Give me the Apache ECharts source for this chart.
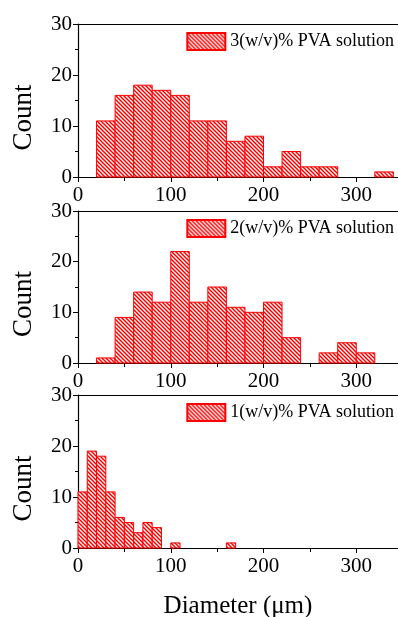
<!DOCTYPE html>
<html>
<head>
<meta charset="utf-8">
<script src="https://cdn.jsdelivr.net/npm/echarts@6/dist/echarts.min.js"></script>
<style>html,body{margin:0;padding:0;background:#fff}#c{width:398px;height:617px}</style>
</head>
<body>
<div id="c"></div>
<script>
// Panel 1: 3(w/v)% PVA solution, bins of width 20
const bins3Start = [20, 40, 60, 80, 100, 120, 140, 160, 180, 200, 220, 240, 260, 320];
const counts3 =    [11, 16, 18, 17, 16, 11, 11, 7, 8, 2, 5, 2, 2, 1];
const width3 = 20;
// Panel 2: 2(w/v)% PVA solution, bins of width 20
const bins2Start = [20, 40, 60, 80, 100, 120, 140, 160, 180, 200, 220, 260, 280, 300];
const counts2 =    [1, 9, 14, 12, 22, 12, 15, 11, 10, 12, 5, 2, 4, 2];
const width2 = 20;
// Panel 3: 1(w/v)% PVA solution, bins of width 10
const bins1Start = [0, 10, 20, 30, 40, 50, 60, 70, 80, 100, 160];
const counts1 =    [11, 19, 18, 11, 6, 5, 3, 5, 4, 1, 1];
const width1 = 10;

const seriesNames = ['3(w/v)% PVA solution', '2(w/v)% PVA solution', '1(w/v)% PVA solution'];
const xTicks = [0, 100, 200, 300];
const yTicks = [0, 10, 20, 30];
const xTitle = 'Diameter (\u03bcm)';
const yTitle = 'Count';

function makePattern() {
  const s = 4;
  const cv = document.createElement('canvas');
  cv.width = s; cv.height = s;
  const ctx = cv.getContext('2d');
  ctx.fillStyle = '#ffffff';
  ctx.fillRect(0, 0, s, s);
  ctx.strokeStyle = '#ff0000';
  ctx.lineWidth = 1.5;
  ctx.beginPath();
  ctx.moveTo(-1, -1); ctx.lineTo(s + 1, s + 1);
  ctx.moveTo(-1, s - 1); ctx.lineTo(1, s + 1);
  ctx.moveTo(s - 1, -1); ctx.lineTo(s + 1, 1);
  ctx.stroke();
  return cv;
}
const pattern = { image: makePattern(), repeat: 'repeat' };

const chart = echarts.init(document.getElementById('c'), null, { renderer: 'canvas' });
const font = 'Liberation Serif';
const grids = [
  { left: 78, right: 0, top: 24, height: 153, outerBoundsMode: 'none', containLabel: false },
  { left: 78, right: 0, top: 211, height: 152, outerBoundsMode: 'none', containLabel: false },
  { left: 78, right: 0, top: 395, height: 153, outerBoundsMode: 'none', containLabel: false }
];
const xMax = 345;

function toData(starts, counts, w) {
  return starts.map((s, i) => [s, s + w, counts[i]]);
}
const datasets = [
  toData(bins3Start, counts3, width3),
  toData(bins2Start, counts2, width2),
  toData(bins1Start, counts1, width1)
];

const xAxes = [], yAxes = [], series = [], legends = [];
grids.forEach((g, i) => {
  xAxes.push({
    type: 'value', gridIndex: i, min: 0, max: xMax, interval: 100,
    position: 'bottom',
    splitLine: { show: false },
    axisLine: { onZero: false, lineStyle: { color: '#000', width: 1.2 } },
    axisTick: { inside: false, length: 5, lineStyle: { color: '#000' } },
    minorTick: { show: true, splitNumber: 2, length: 4, lineStyle: { color: '#000' } },
    axisLabel: {
      color: '#000', fontFamily: font, fontSize: 21, margin: 8, showMaxLabel: false,
      formatter: v => xTicks.indexOf(v) >= 0 ? String(v) : ''
    },
    name: i === 2 ? xTitle : '',
    nameLocation: 'middle', nameGap: 46,
    nameTextStyle: { color: '#000', fontFamily: font, fontSize: 25 }
  });
  xAxes.push({
    type: 'value', gridIndex: i, min: 0, max: xMax, position: 'top',
    splitLine: { show: false },
    axisLine: { onZero: false, lineStyle: { color: '#000', width: 1.2 } },
    axisTick: { show: false }, axisLabel: { show: false }
  });
  yAxes.push({
    type: 'value', gridIndex: i, min: 0, max: 30, interval: 10,
    splitLine: { show: false },
    axisLine: { show: true, onZero: false, lineStyle: { color: '#000', width: 1.2 } },
    axisTick: { show: true, inside: false, length: 5, lineStyle: { color: '#000' } },
    minorTick: { show: true, splitNumber: 2, length: 3, lineStyle: { color: '#000' } },
    axisLabel: {
      color: '#000', fontFamily: font, fontSize: 21, margin: 6,
      formatter: v => yTicks.indexOf(v) >= 0 ? String(v) : ''
    },
    name: yTitle, nameLocation: 'middle', nameGap: 41, nameRotate: 90,
    nameTextStyle: { color: '#000', fontFamily: font, fontSize: 27, padding: [0, 34, 0, 0] }
  });
  series.push({
    type: 'custom', name: seriesNames[i],
    xAxisIndex: i * 2, yAxisIndex: i,
    data: datasets[i],
    encode: { x: [0, 1], y: 2 },
    itemStyle: { color: pattern, borderColor: '#ff0000', borderWidth: 1 },
    renderItem: function (params, api) {
      const p0 = api.coord([api.value(0), api.value(2)]);
      const p1 = api.coord([api.value(1), 0]);
      return {
        type: 'rect',
        shape: { x: p0[0], y: p0[1], width: p1[0] - p0[0], height: p1[1] - p0[1] },
        style: { fill: pattern, stroke: '#ff0000', lineWidth: 1 }
      };
    }
  });
  legends.push({
    data: [seriesNames[i]], right: 4, top: g.top + 8, padding: 0,
    icon: 'rect', itemWidth: 38, itemHeight: 17, itemGap: 4,
    textStyle: { color: '#000', fontFamily: font, fontSize: 18 },
    selectedMode: false
  });
});

chart.setOption({
  animation: false,
  backgroundColor: '#fff',
  grid: grids,
  xAxis: xAxes,
  yAxis: yAxes,
  legend: legends,
  series: series
});
</script>
</body>
</html>
